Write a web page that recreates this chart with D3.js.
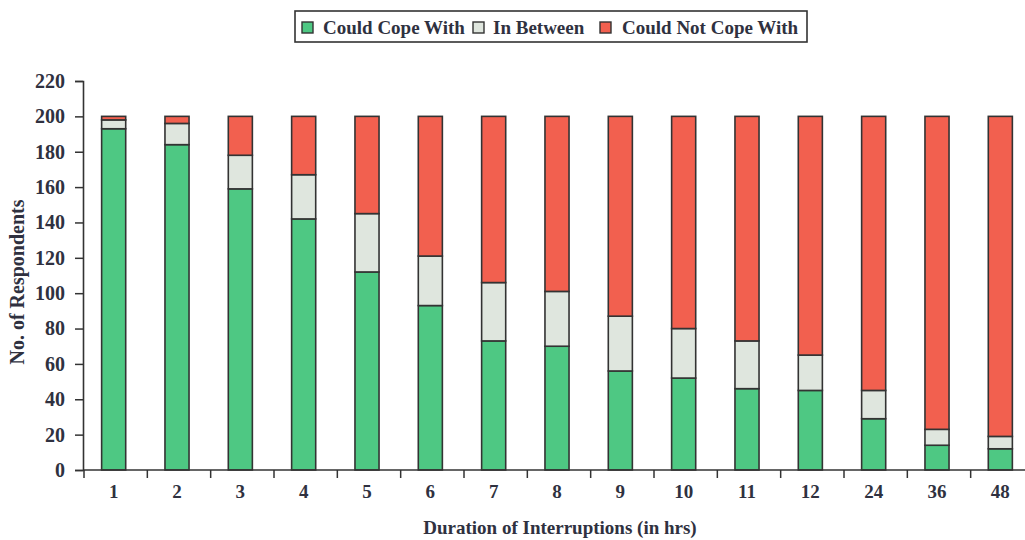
<!DOCTYPE html>
<html><head><meta charset="utf-8">
<script src="https://cdn.jsdelivr.net/npm/d3@7/dist/d3.min.js"></script>
<style>body{margin:0;background:#fff}svg{display:block}</style>
</head><body><svg id="c" width="1025" height="540"></svg>
<script>
const categories = ["1","2","3","4","5","6","7","8","9","10","11","12","24","36","48"];
const couldCope    = [193,184,159,142,112, 93, 73, 70, 56, 52, 46, 45, 29, 14, 12];
const inBetween    = [  5, 12, 19, 25, 33, 28, 33, 31, 31, 28, 27, 20, 16,  9,  7];
const couldNotCope = [  2,  4, 22, 33, 55, 79, 94, 99,113,120,127,135,155,177,181];
const seriesNames = ["Could Cope With","In Between","Could Not Cope With"];
const yTicks = [0,20,40,60,80,100,120,140,160,180,200,220];
const colors = ["#4ec883","#dfe6de","#f2604f"];

const svg = d3.select("#c");
const font = "'Liberation Serif','Times New Roman',serif";
const textCol = "#2f3140";
const x = d3.scaleBand().domain(categories).range([84,1034]).paddingInner(0.62).paddingOuter(0.31);
const y = d3.scaleLinear().domain([0,220]).range([470,81]);

const rows = categories.map((c,i)=>({cat:c, s0:couldCope[i], s1:inBetween[i], s2:couldNotCope[i]}));
const stack = d3.stack().keys(["s0","s1","s2"])(rows);

svg.append("g").selectAll("g").data(stack).join("g")
  .attr("fill",(d,i)=>colors[i])
  .selectAll("rect").data(d=>d).join("rect")
  .attr("x",d=>x(d.data.cat)-2).attr("width",x.bandwidth())
  .attr("y",d=>y(d[1])).attr("height",d=>y(d[0])-y(d[1]))
  .attr("stroke","#333").attr("stroke-width",1.6);

// y axis
const ya = svg.append("g").attr("transform","translate(83,0)")
  .call(d3.axisLeft(y).tickValues(yTicks).tickSize(8).tickPadding(10));
ya.select(".domain").attr("stroke","#333").attr("stroke-width",1.6);
ya.selectAll(".tick line").attr("stroke","#333").attr("stroke-width",1.5);
ya.selectAll("text").attr("font-family",font).attr("font-weight","bold").attr("font-size",20).attr("fill",textCol);

// x axis with ticks at band boundaries
const xa = svg.append("g").attr("transform","translate(0,470)");
xa.append("line").attr("x1",83).attr("x2",1034).attr("stroke","#333").attr("stroke-width",1.6);
const step = x.step();
xa.selectAll(".bt").data(categories).join("line")
  .attr("x1",(d,i)=>84+i*step).attr("x2",(d,i)=>84+i*step)
  .attr("y1",0).attr("y2",8).attr("stroke","#333").attr("stroke-width",1.5);
xa.selectAll(".lb").data(categories).join("text")
  .attr("x",d=>x(d)+x.bandwidth()/2-2).attr("y",28)
  .attr("text-anchor","middle").attr("font-family",font).attr("font-weight","bold")
  .attr("font-size",19).attr("fill",textCol).text(d=>d);

// axis titles
svg.append("text").attr("x",560).attr("y",534).attr("text-anchor","middle")
  .attr("font-family",font).attr("font-weight","bold").attr("font-size",19).attr("fill",textCol)
  .text("Duration of Interruptions (in hrs)");
svg.append("text").attr("transform","translate(24,282) rotate(-90)").attr("text-anchor","middle")
  .attr("font-family",font).attr("font-weight","bold").attr("font-size",20).attr("fill",textCol)
  .text("No. of Respondents");

// legend
const lg = svg.append("g");
lg.append("rect").attr("x",295).attr("y",11).attr("width",512).attr("height",31)
  .attr("fill","#fff").attr("stroke","#333").attr("stroke-width",1.6);
const sqX = [302,473,600], txX = [323,493,622];
seriesNames.forEach((n,i)=>{
  lg.append("rect").attr("x",sqX[i]).attr("y",22).attr("width",11).attr("height",11)
    .attr("fill",colors[i]).attr("stroke","#333").attr("stroke-width",1.4);
  lg.append("text").attr("x",txX[i]).attr("y",34).attr("font-family",font).attr("font-weight","bold")
    .attr("font-size",19).attr("fill",textCol).text(n);
});
</script></body></html>
